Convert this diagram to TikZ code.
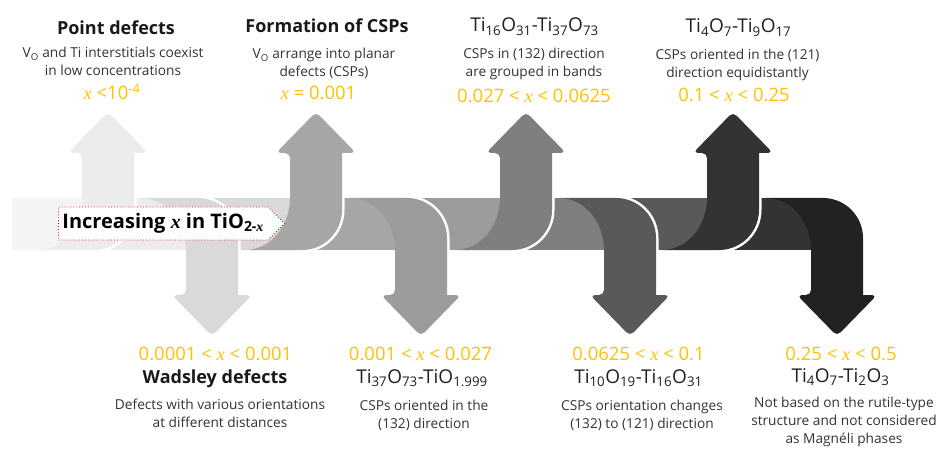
\documentclass[tikz,border=0pt]{standalone}
\usepackage{fontspec}
\setmainfont{Open Sans}
\newfontfamily\varfont{Liberation Serif}
\usetikzlibrary{shapes.symbols}

\definecolor{gold}{HTML}{FFC000}
\definecolor{ribbonZ}{HTML}{F4F4F4}
\definecolor{ribbonA}{HTML}{ECECEC}
\definecolor{ribbonB}{HTML}{D9D9D9}
\definecolor{ribbonC}{HTML}{A6A6A6}
\definecolor{ribbonD}{HTML}{9B9C9E}
\definecolor{ribbonE}{HTML}{7F7F7F}
\definecolor{ribbonF}{HTML}{58595B}
\definecolor{ribbonG}{HTML}{333333}
\definecolor{ribbonH}{HTML}{222222}

\newcommand{\varx}{{\varfont\itshape x}}

\begin{document}
\begin{tikzpicture}[x=1pt, y=1pt,
  upward/.style={},
  flipped/.style={shift={(0,448)}, yscale=-1},
  elbow/.style={insert path={(#1-45,198) -- (#1+12,198)
      arc[start angle=-90, end angle=0, radius=40] -- (#1+52,295)
      [rounded corners=5] -- (#1+66,295) -- (#1+26,336) -- (#1-14,295) -- (#1,295)
      [sharp corners] -- (#1,250)
      arc[start angle=0, end angle=-90, x radius=45, y radius=52] -- cycle}},
  seam/.style={draw=white, line width=5pt, line join=round},
  stage/.style={anchor=base, font=\fontsize{18}{22}\selectfont\bfseries, text=black!90},
  formula/.style={anchor=base, font=\fontsize{19}{22}\selectfont, text=black!88},
  desc/.style={anchor=base, align=center, font=\fontsize{13.7}{18}\selectfont, text=black!80},
  conc/.style={anchor=base, font=\fontsize{18.5}{22}\selectfont, text=gold},
  banner/.style={signal, signal to=east, draw=red, dotted, line width=0.9pt, fill=white,
      minimum height=33pt, inner xsep=4pt, inner ysep=2pt,
      font=\fontsize{20}{24}\selectfont\bfseries}]

\useasboundingbox (0,0) rectangle (938,448);

% Draw the bent arrows from right to left, each one over the band of the next
\foreach \a/\s/\lite/\dark/\dir in {811/707/ribbonG/ribbonH/flipped,
    707/604/ribbonF/ribbonG/upward, 604/500/ribbonE/ribbonF/flipped,
    500/395/ribbonD/ribbonE/upward, 395/290/ribbonC/ribbonD/flipped,
    290/186/ribbonB/ribbonC/upward, 186/82/ribbonA/ribbonB/flipped,
    82/12/ribbonZ/ribbonA/upward}{
  \begin{scope}[\dir]
    \path[seam] (\s,198) rectangle (\a,250);
    \path[seam] [elbow=\a];
    \fill[\lite] (\s,198) rectangle (\a,250);
    \fill[\dark] [elbow=\a];
  \end{scope}
}

% Label on the band
\node[banner, anchor=west] (increasing) at (58,224.5) {Increasing \varx{} in TiO\textsubscript{2-\varx}};

% Stages above the band (a description node sits on its last line)
\node[stage] (pointTitle) at (116,413) {Point defects};
\node[desc] (pointDesc) at (113,372) {V\textsubscript{O} and Ti interstitials coexist\\in low concentrations};
\node[conc] (pointRange) at (112,348) {\varx{} <10\textsuperscript{-4}};

\node[stage] (cspTitle) at (327,415) {Formation of CSPs};
\node[desc] (cspDesc) at (324,371) {V\textsubscript{O} arrange into planar\\defects (CSPs)};
\node[conc] (cspRange) at (318.5,348) {\varx{} = 0.001};

\node[formula] (bandTitle) at (534.5,416) {Ti\textsubscript{16}O\textsubscript{31}-Ti\textsubscript{37}O\textsubscript{73}};
\node[desc] (bandDesc) at (534,371) {CSPs in (132) direction\\are grouped in bands};
\node[conc] (bandRange) at (534,345) {0.027 < \varx{} < 0.0625};

\node[formula] (equiTitle) at (738.5,415) {Ti\textsubscript{4}O\textsubscript{7}-Ti\textsubscript{9}O\textsubscript{17}};
\node[desc] (equiDesc) at (737.5,370) {CSPs oriented in the (121)\\direction equidistantly};
\node[conc] (equiRange) at (734,346) {0.1 < \varx{} < 0.25};

% Stages below the band
\node[conc] (wadsleyRange) at (215.5,88) {0.0001 < \varx{} < 0.001};
\node[stage] (wadsleyTitle) at (215,65) {Wadsley defects};
\node[desc] (wadsleyDesc) at (220,21) {Defects with various orientations\\at different distances};

\node[conc] (oneRange) at (420.5,88) {0.001 < \varx{} < 0.027};
\node[formula] (oneTitle) at (422,65) {Ti\textsubscript{37}O\textsubscript{73}-TiO\textsubscript{1.999}};
\node[desc] (oneDesc) at (424,20) {CSPs oriented in the\\(132) direction};

\node[conc] (changeRange) at (638.5,88) {0.0625 < \varx{} < 0.1};
\node[formula] (changeTitle) at (638.5,65) {Ti\textsubscript{10}O\textsubscript{19}-Ti\textsubscript{16}O\textsubscript{31}};
\node[desc] (changeDesc) at (642,20) {CSPs orientation changes\\(132) to (121) direction};

\node[conc] (rutileRange) at (841,88) {0.25 < \varx{} < 0.5};
\node[formula] (rutileTitle) at (840.5,66) {Ti\textsubscript{4}O\textsubscript{7}-Ti\textsubscript{2}O\textsubscript{3}};
\node[desc] (rutileDesc) at (844,4.5) {Not based on the rutile-type\\structure and not considered\\as Magn\'eli phases};

\end{tikzpicture}
\end{document}
